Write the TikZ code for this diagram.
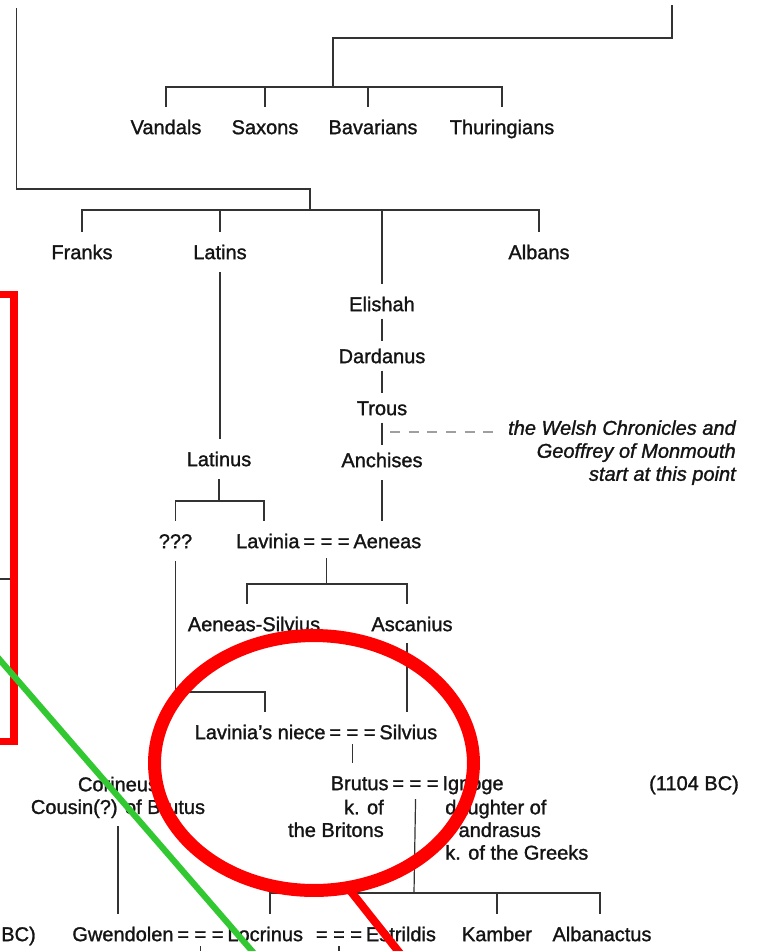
\documentclass[tikz,border=0pt]{standalone}
\usepackage{fontspec}
\setmainfont{Liberation Sans}[FakeBold=1.3]
\usepackage{xcolor}
\usepackage{tikz}
\usetikzlibrary{positioning}

\definecolor{penred}{RGB}{255,0,0}
\definecolor{pengreen}{RGB}{50,200,50}

\begin{document}
\begin{tikzpicture}[
  x=0.75pt, y=-0.75pt,
  node distance=8.9pt,
  every node/.style={font=\fontsize{15}{18}\selectfont, text=black!92},
  folk/.style={inner xsep=0pt, inner ysep=9.5pt, text height=10.7pt, text depth=0pt},
  wed/.style={folk, inner xsep=2.5pt},
  gloss/.style={inner sep=0pt, font=\fontsize{15}{17}\selectfont},
  kin/.style={draw=black!80, line width=0.9pt},
  chain/.style={kin, shorten <=-4pt, shorten >=-4pt},
  redpen/.style={draw=penred},
  greenpen/.style={draw=pengreen},
]
\useasboundingbox (0,0) rectangle (759,951);

% Germanic peoples (top row)
\node[folk] (vandals) at (166,127) {Vandals};
\node[folk] (saxons) at (265,127) {Saxons};
\node[folk] (bavarians) at (373,127) {Bavarians};
\node[folk] (thuring) at (502,127) {Thuringians};

\coordinate (gtop) at (672,5);
\coordinate (gjoin) at (333,38);
\coordinate (gbar) at (333,87);
\draw[kin] (gtop) |- (gjoin) -- (gbar);
\draw[kin] (vandals.north) |- (gbar) -| (thuring.north);
\draw[kin] (saxons.north) -- (saxons.north |- gbar);
\coordinate (bavdrop) at (368,87);
\draw[kin] (bavdrop) -- (bavdrop |- bavarians.north);

% Second row
\node[folk] (franks) at (82,252) {Franks};
\node[folk] (latins) at (220,252) {Latins};
\node[folk] (albans) at (539,252) {Albans};
\node[folk] (elishah) at (382,304) {Elishah};

\coordinate (wtop) at (16.5,8);
\coordinate (wjoin) at (310,189);
\coordinate (wbar) at (310,210);
\draw[kin] (wtop) |- (wjoin) -- (wbar);
\draw[kin] (franks.north) |- (wbar) -| (albans.north);
\draw[kin] (latins.north) -- (latins.north |- wbar);
\draw[kin] (elishah.north) -- (elishah.north |- wbar);

% Trojan line
\node[folk, below=of elishah] (dardanus) {Dardanus};
\node[folk, below=of dardanus] (trous) {Trous};
\node[folk, below=of trous] (anchises) {Anchises};
\draw[chain] (elishah) -- (dardanus);
\draw[chain] (dardanus) -- (trous);
\draw[chain] (trous) -- (anchises);

% Note on the sources
\node[gloss, font=\fontsize{15}{17.25}\selectfont\itshape, align=right, anchor=north east] (welsh) at (736,420)
  {the Welsh Chronicles and\\Geoffrey of Monmouth\\start at this point};
\coordinate (wdash) at (390,432);
\draw[kin, draw=gray!75, dash pattern=on 7.5pt off 6.5pt, shorten >=7.5pt] (wdash) -- (wdash -| welsh.west);

% Latinus and his line
\node[folk] (latinus) at (219,459) {Latinus};
\draw[kin] (latins.south) -- (latins.south |- latinus.north);

\node[folk] (qqq) at (175.5,541) {???};
\node[wed] (m1) at (326.5,541) {= = =};
\node[folk, left=0pt of m1] (lavinia) {Lavinia};
\node[folk, right=0pt of m1] (aeneas) {Aeneas};

\coordinate (lbar) at (219,501);
\coordinate (lavdrop) at (264,501);
\draw[kin] (latinus.south) -- (lbar);
\draw[kin] (qqq.north) |- (lavdrop) -- (lavdrop |- lavinia.north);
\draw[kin] (anchises.south) -- (anchises.south |- aeneas.north);

% Children of Aeneas
\node[folk] (asilvius) at (254,624) {Aeneas-Silvius};
\node[folk] (ascanius) at (412,624) {Ascanius};
\coordinate (abar) at (326.5,584);
\coordinate (abarl) at (247,584);
\coordinate (abarr) at (407,584);
\draw[kin, shorten <=-2pt] (m1.south) -- (abar);
\draw[kin] (abarl |- asilvius.north) -- (abarl) -- (abarr) -- (abarr |- ascanius.north);

\node[wed] (m2) at (352.5,732) {= = =};
\node[folk, left=0pt of m2] (niece) {Lavinia’s niece};
\node[folk, right=0pt of m2] (silvius) {Silvius};

\coordinate (nbar) at (265,692);
\draw[kin] (qqq.south) |- (nbar) -- (nbar |- niece.north);
\coordinate (ascdrop) at (407,643);
\draw[kin] (ascdrop) -- (ascdrop |- silvius.north);

% Brutus generation
\node[wed] (m3) at (415.5,783) {= = =};
\node[folk, left=0pt of m3] (brutus) {Brutus};
\node[folk, right=0pt of m3] (ignoge) {Ignoge};
\draw[kin, shorten <=-6pt] (m2.south) -- (m2.south |- brutus.north);

\node[gloss, align=right, anchor=north east] (brutusk) at (384,799.5) {k. of\\the Britons};
\node[gloss, align=left, anchor=north west] (ignoged) at (445,799.5) {daughter of\\Pandrasus\\k. of the Greeks};
\node[folk] (date) at (694,783) {(1104 BC)};
\node[gloss, align=center, anchor=north] (corineus) at (118,776.5) {Corineus\\Cousin(?) of Brutus};

% Bottom row
\node[folk, anchor=east] (bc) at (36,934) {BC)};
\node[wed] (m4) at (200.5,934) {= = =};
\node[folk, left=0pt of m4] (gwendolen) {Gwendolen};
\node[folk, right=0pt of m4] (locrinus) {Locrinus};
\node[wed] (m5) at (339,934) {= = =};
\node[folk, right=0pt of m5] (estrildis) {Estrildis};
\node[folk] (kamber) at (497,934) {Kamber};
\node[folk] (albanactus) at (602,934) {Albanactus};

\draw[kin, shorten <=6pt] (corineus.south) -- (corineus.south |- gwendolen.north);
\coordinate (bbar) at (414,893);
\coordinate (bbarl) at (270,893);
\coordinate (bbarr) at (600,893);
\draw[kin, shorten <=-3pt] (m3.south) -- (bbar);
\draw[kin] (bbarl |- locrinus.north) -- (bbarl) -- (bbarr) -- (bbarr |- albanactus.north);
\draw[kin] (kamber.north) -- (kamber.north |- bbar);

\coordinate (floor) at (0,956);
\draw[kin, shorten <=-6pt] (m4.south) -- (m4.south |- floor);
\draw[kin, shorten <=-6pt] (m5.south) -- (m5.south |- floor);
\coordinate (stub) at (0,579);
\draw[kin] (stub) -- ++(14,0);

% Marks drawn over the scan
\begin{scope}
  \clip (0,0) rectangle (759,951);
  \draw[redpen, line width=5.6pt] (-40,294.5) rectangle (13.8,741.5);
  \draw[greenpen, line width=4.6pt] (-10,648.5) -- (265,966);
  \draw[redpen, line width=9.75pt] (314,763) ellipse [x radius=119.6pt, y radius=95.6pt];
  \draw[redpen, line width=6pt] (345,884) -- (410,966);
\end{scope}

\end{tikzpicture}
\end{document}
